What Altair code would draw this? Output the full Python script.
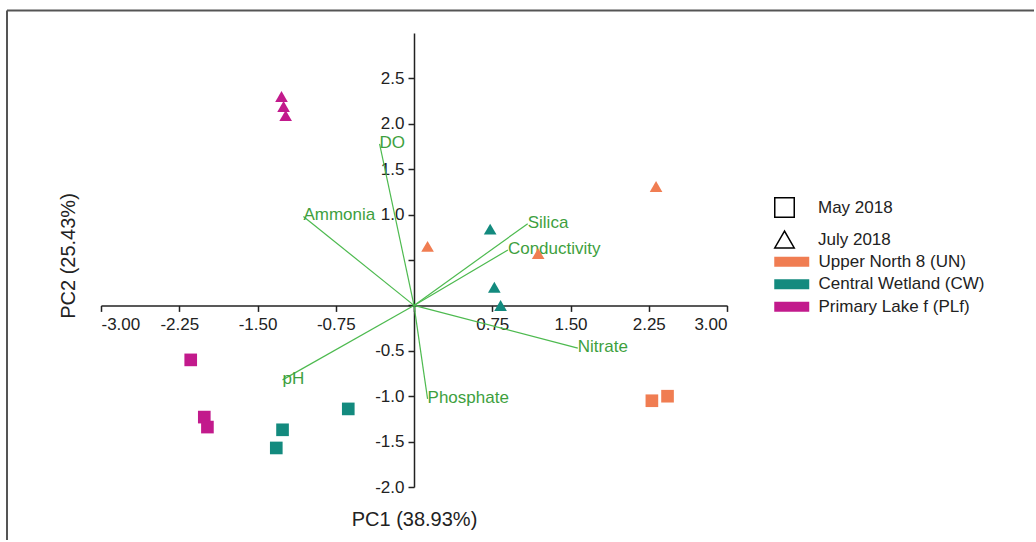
import altair as alt
import pandas as pd

# ---- sample scores ----
pc1 = [0.13, 1.19, 2.32, 2.28, 2.43,
       0.73, 0.77, 0.83, -1.26, -1.32, -0.63,
       -1.27, -1.25, -1.23, -2.14, -2.01, -1.98]
pc2 = [0.65, 0.57, 1.31, -1.05, -1.00,
       0.84, 0.20, 0.00, -1.37, -1.57, -1.14,
       2.30, 2.19, 2.09, -0.60, -1.23, -1.34]
site = (["Upper North 8 (UN)"] * 5 + ["Central Wetland (CW)"] * 6
        + ["Primary Lake f (PLf)"] * 6)
month = (["July 2018"] * 3 + ["May 2018"] * 2
         + ["July 2018"] * 3 + ["May 2018"] * 3
         + ["July 2018"] * 3 + ["May 2018"] * 3)

# ---- variable loadings ----
var_names = ["DO", "Ammonia", "Silica", "Conductivity", "Nitrate", "Phosphate", "pH"]
load_pc1 = [-0.33, -1.06, 1.09, 0.90, 1.57, 0.13, -1.26]
load_pc2 = [1.78, 0.98, 0.90, 0.61, -0.47, -1.03, -0.82]

site_order = ["Upper North 8 (UN)", "Central Wetland (CW)", "Primary Lake f (PLf)"]
site_colors = ["#F07D52", "#138A7E", "#C21A8C"]
month_order = ["May 2018", "July 2018"]

x_ticks = [-3.0, -2.25, -1.5, -0.75, 0.0, 0.75, 1.5, 2.25, 3.0]
y_ticks = [-2.0, -1.5, -1.0, -0.5, 0.0, 0.5, 1.0, 1.5, 2.0, 2.5]

scores = pd.DataFrame({"pc1": pc1, "pc2": pc2, "site": site, "month": month})
loads = pd.DataFrame({"var": var_names, "l1": load_pc1, "l2": load_pc2})

W, H = 626, 454
AX = "#222222"
FONT = "Liberation Sans"

xscale = alt.Scale(domain=[-3, 3], nice=False, zero=False)
yscale = alt.Scale(domain=[-2, 3], nice=False, zero=False)

x_axis = alt.Axis(
    values=x_ticks, orient="bottom", offset=-(H * 2 / 5),
    labelExpr="datum.value == 0 ? '' : (datum.value < 0 ? '-' : '') + format(abs(datum.value), '.2f')",
    title="PC1 (38.93%)", titleX=W / 2, titleY=220, titleBaseline="alphabetic",
    titleFontSize=20, titleFontWeight="normal", titleColor=AX,
    labelFontSize=17, labelColor=AX, labelPadding=5, grid=False,
    tickSize=6, tickColor=AX, tickWidth=1.5, domainColor=AX, domainWidth=1.5,
)
y_axis = alt.Axis(
    values=y_ticks, orient="left", offset=-(W / 2),
    labelExpr="(datum.value == 0 || datum.value == 0.5) ? '' : (datum.value < 0 ? '-' : '') + format(abs(datum.value), '.1f')",
    title="PC2 (25.43%)", titleX=-346, titleY=222.5, titleAngle=270,
    titleBaseline="middle", titleAlign="center",
    titleFontSize=20, titleFontWeight="normal", titleColor=AX,
    labelFontSize=17, labelColor=AX, labelPadding=4, grid=False,
    tickSize=6, tickColor=AX, tickWidth=1.5, domainColor=AX, domainWidth=1.5,
)

points = alt.Chart(scores).mark_point(filled=True, size=160, opacity=1).encode(
    x=alt.X("pc1:Q", scale=xscale, axis=x_axis),
    y=alt.Y("pc2:Q", scale=yscale, axis=y_axis),
    color=alt.Color(
        "site:N",
        scale=alt.Scale(domain=site_order, range=site_colors),
        legend=alt.Legend(
            title=None, orient="none", legendX=681.75, legendY=219.75,
            symbolType="M-2,-0.5714H2V0.5714H-2Z", symbolSize=306,
            symbolStrokeWidth=0, labelFontSize=17, labelColor=AX,
            labelOffset=17.75, rowPadding=5.5, padding=0, labelFont=FONT,
            labelLimit=400,
        ),
    ),
    shape=alt.Shape(
        "month:N",
        scale=alt.Scale(domain=month_order, range=["square", "triangle-up"]),
        legend=alt.Legend(
            title=None, orient="none", legendX=673, legendY=164,
            symbolSize=380, symbolFillColor="white", symbolStrokeColor="black",
            symbolStrokeWidth=1.5, labelFontSize=17, labelColor=AX,
            labelOffset=23, rowPadding=7, padding=0, labelFont=FONT,
            labelLimit=400,
        ),
    ),
)

arrows = alt.Chart(loads).mark_rule(color="#4DBA4F", strokeWidth=1.2).encode(
    x=alt.X("l1:Q", scale=xscale),
    y=alt.Y("l2:Q", scale=yscale),
    x2=alt.datum(0),
    y2=alt.datum(0),
)

labels = alt.Chart(loads).mark_text(
    align="left", baseline="middle", fontSize=17, color="#3E9F3E", font=FONT, dy=-1
).encode(
    x=alt.X("l1:Q", scale=xscale),
    y=alt.Y("l2:Q", scale=yscale),
    text="var:N",
)

frame_df = pd.DataFrame({"k": [0]})
frame_top = alt.Chart(frame_df).mark_rule(color="#555555", strokeWidth=2).encode(
    x=alt.value(-94), x2=alt.value(933), y=alt.value(-22.5), y2=alt.value(-22.5)
)
frame_left = alt.Chart(frame_df).mark_rule(color="#555555", strokeWidth=2).encode(
    x=alt.value(-94), x2=alt.value(-94), y=alt.value(-22.5), y2=alt.value(507)
)

chart = alt.layer(frame_top, frame_left, arrows, labels, points).properties(
    width=W, height=H,
    padding={"left": 6, "top": 9, "right": 0, "bottom": 0},
).configure(font=FONT, background="white").configure_view(stroke=None)

chart.save("out.html", embed_options={"renderer": "svg", "actions": False})
